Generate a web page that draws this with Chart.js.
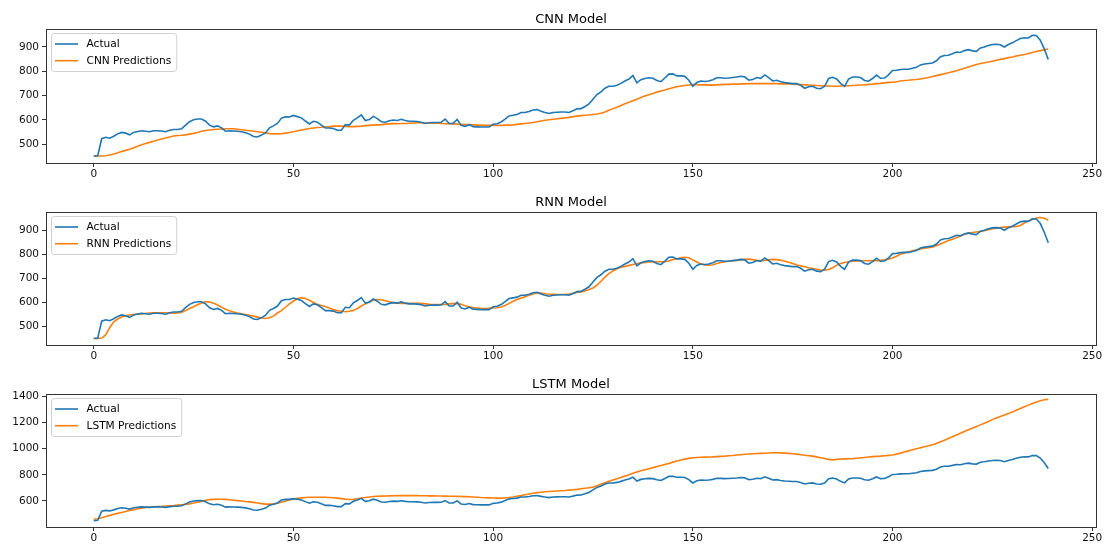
<!DOCTYPE html>
<html>
<head>
<meta charset="utf-8">
<title>CNN / RNN / LSTM predictions</title>
<script src="https://cdn.jsdelivr.net/npm/chart.js@4.4.1/dist/chart.umd.min.js"></script>
<style>
   body { margin: 0; background: #fff; }
   #figure { position: relative; width: 1107px; height: 550px; overflow: hidden; }
   .panel { position: absolute; left: 0; width: 1107px; }
</style>
</head>
<body>
<div id="figure">
   <div class="panel" style="top:0px"><canvas id="cnn" width="1107" height="183"></canvas></div>
   <div class="panel" style="top:183px"><canvas id="rnn" width="1107" height="182"></canvas></div>
   <div class="panel" style="top:365px"><canvas id="lstm" width="1107" height="182"></canvas></div>
</div>
<script>
// values
const actual = [
   450,452,522,528,524,532,542,548,545,538, 548,552,555,553,551,555,555,554,551,557,
   560,560,563,578,592,600,603,603,594,578, 571,575,567,553,555,554,553,551,547,541,
   531,529,537,546,567,575,585,607,612,612, 618,613,608,595,583,594,590,578,566,566,
   564,557,557,580,578,598,608,620,597,601, 614,605,592,590,596,599,597,602,597,594,
   594,593,590,585,588,589,589,590,603,585, 585,601,577,573,580,572,571,570,570,570,
   582,584,591,603,616,619,622,630,630,634, 640,642,635,630,626,630,631,632,632,630,
   637,645,646,655,665,685,704,715,730,738, 738,742,750,760,768,782,752,765,770,773,
   771,762,757,772,788,789,781,781,779,763, 738,754,760,758,760,765,773,773,771,772,
   774,776,779,777,763,766,774,771,785,774, 760,763,757,753,751,749,749,742,730,736,
   738,730,728,738,770,775,768,750,738,768, 776,776,774,762,759,770,784,771,772,785,
   803,804,807,808,808,812,816,826,830,832, 834,843,860,865,866,872,879,877,885,889,
   884,882,896,900,906,910,911,909,900,910, 917,926,935,938,937,948,947,928,892,848
];

const cnnPredictions = [
   451,451,451,452,455,459,464,469,474,479, 485,491,497,502,507,512,517,521,525,529,
   533,535,536,538,541,544,548,553,556,558, 560,561,562,563,563,563,561,559,557,555,
   553,551,549,546,543,542,542,543,545,548, 551,555,558,561,564,566,568,569,571,572,
   574,574,574,573,572,572,573,574,576,577, 578,579,580,582,583,584,584,585,585,586,
   587,588,588,587,587,586,586,585,584,584, 583,582,581,580,580,579,578,578,577,577,
   577,577,577,578,578,579,581,583,585,587, 589,592,595,598,600,602,604,606,608,610,
   613,615,617,619,620,622,624,627,632,639, 646,652,659,666,672,678,685,692,698,703,
   708,714,719,723,728,732,736,739,741,743, 745,745,744,744,743,743,744,745,746,746,
   747,747,748,748,749,749,749,749,749,749, 749,749,748,748,748,747,746,745,744,743,
   742,741,740,739,739,738,738,739,740,740, 741,742,743,744,746,747,749,750,752,754,
   755,757,760,762,763,765,766,768,771,774, 778,782,786,790,794,798,802,807,812,817,
   823,828,832,835,838,841,845,849,852,856, 859,863,866,869,873,877,881,885,888,892
];

const rnnPredictions = [
   450,450,452,465,495,519,531,539,545,548, 550,551,552,554,556,557,557,557,557,556,
   555,556,559,566,575,582,590,598,603,602, 597,589,580,572,565,560,556,553,550,547,
   543,539,535,533,536,543,556,566,580,594, 606,615,620,616,609,600,592,587,583,577,
   571,566,563,561,563,566,575,585,594,603, 610,612,611,607,603,600,597,596,596,596,
   596,596,596,594,592,591,591,591,592,594, 595,596,592,586,582,579,577,575,575,576,
   577,578,581,587,596,605,612,618,624,630, 635,639,639,636,634,634,633,633,633,635,
   638,641,644,648,654,660,672,688,705,720, 731,740,746,750,754,758,762,764,766,768,
   769,769,769,769,772,778,782,786,788,786, 777,768,760,756,755,757,762,766,769,771,
   773,775,777,779,780,778,775,774,775,777, 779,778,775,771,767,762,756,752,748,744,
   741,738,735,734,737,744,754,762,766,769, 771,772,772,773,773,774,774,775,777,780,
   785,792,800,806,811,815,819,822,825,827, 831,836,843,850,857,863,869,876,883,888,
   891,893,895,898,902,906,909,911,913,914, 915,916,920,930,939,945,951,953,950,942
];

const lstmPredictions = [
   462,464,472,481,490,498,505,512,520,527, 534,540,545,550,554,556,558,559,561,563,
   565,568,571,574,578,584,591,599,605,610, 612,613,613,612,609,606,603,600,596,593,
   589,585,580,576,576,578,582,590,600,608, 615,620,624,627,628,628,628,628,628,627,
   625,622,618,614,611,612,617,623,627,631, 634,636,637,638,639,640,641,641,641,641,
   641,641,640,640,639,639,638,638,637,636, 636,635,634,633,632,630,628,626,625,624,
   623,622,622,623,626,630,636,641,647,653, 659,664,667,670,672,674,676,678,680,683,
   686,689,693,697,701,706,716,728,740,751, 761,770,780,790,801,812,822,831,839,847,
   855,863,871,879,887,897,906,914,920,926, 930,932,934,935,936,937,939,941,943,946,
   948,951,954,957,959,961,963,964,965,967, 969,969,968,966,964,961,958,954,950,947,
   943,937,931,925,918,914,918,921,922,923, 924,927,930,933,936,939,941,943,946,949,
   952,958,966,975,983,991,999,1007,1015,1022, 1030,1040,1052,1064,1078,1091,1104,1118,1132,1145,
   1157,1169,1182,1195,1208,1222,1235,1246,1257,1269, 1281,1294,1307,1320,1333,1345,1357,1367,1374,1377
];

const xTicks = [0, 50, 100, 150, 200, 250];
const smallYTicks = [500, 600, 700, 800, 900];
const lstmYTicks = [600, 800, 1000, 1200, 1400];

const blue = '#1f77b4';
const orange = '#ff7f0e';

Chart.defaults.font.family = "'DejaVu Sans', sans-serif";
Chart.defaults.font.size = 10.5;
Chart.defaults.color = '#111';
Chart.defaults.animation = false;

// box round the axes, like matplotlib spines
const framePlugin = {
   id: 'frame',
   afterDatasetsDraw(chart){
      let a = chart.chartArea;
      let ctx = chart.ctx;
      ctx.save();
      ctx.strokeStyle = '#333';
      ctx.lineWidth = 1;
      ctx.strokeRect(Math.round(a.left) + 0.5, Math.round(a.top) + 0.5, Math.round(a.right - a.left), Math.round(a.bottom - a.top));
      ctx.restore();
   }
};

// title centred over the plot area, not the whole canvas
const axesTitlePlugin = {
   id: 'axesTitle',
   afterDraw(chart, args, opts){
      let a = chart.chartArea;
      let ctx = chart.ctx;
      ctx.save();
      ctx.font = "13px 'DejaVu Sans', sans-serif";
      ctx.fillStyle = '#000';
      ctx.textAlign = 'center';
      ctx.textBaseline = 'alphabetic';
      ctx.fillText(opts.text, (a.left + a.right) / 2, a.top - 6.5);
      ctx.restore();
   }
};

// legend inside the upper-left corner of the axes
const innerLegendPlugin = {
   id: 'innerLegend',
   afterDraw(chart){
      let a = chart.chartArea;
      let ctx = chart.ctx;
      let sets = chart.data.datasets;
      ctx.save();
      ctx.font = "10.6px 'DejaVu Sans', sans-serif";
      let textW = Math.max(...sets.map(s => ctx.measureText(s.label).width));
      let x = a.left + 5.5;
      let y = a.top + 4.5;
      let w = 3.5 + 23 + 8.5 + textW + 5.5;
      let h = 38;

      ctx.beginPath();
      ctx.roundRect(x, y, w, h, 3);
      ctx.fillStyle = 'rgba(255,255,255,0.8)';
      ctx.fill();
      ctx.strokeStyle = '#d0d0d0';
      ctx.lineWidth = 1;
      ctx.stroke();

      sets.forEach((s, i) => {
         let rowY = y + 10.5 + i * 16.7;
         ctx.beginPath();
         ctx.moveTo(x + 3.5, rowY);
         ctx.lineTo(x + 26.5, rowY);
         ctx.strokeStyle = s.borderColor;
         ctx.lineWidth = 1.6;
         ctx.stroke();
         ctx.fillStyle = '#000';
         ctx.textAlign = 'left';
         ctx.textBaseline = 'middle';
         ctx.fillText(s.label, x + 35, rowY + 0.5);
      });
      ctx.restore();
   }
};

function toPoints(values){
   return values.map((v, i) => ({x: i, y: v}));
}

function constructPanel(canvasId, title, predLabel, predValues, yMin, yMax, yTicks){
   let data = {
      datasets: [
         {label: 'Actual', data: toPoints(actual), borderColor: blue, backgroundColor: blue},
         {label: predLabel, data: toPoints(predValues), borderColor: orange, backgroundColor: orange}
      ]
   };

   let options = {
      responsive: false,
      layout: {padding: {top: 29, right: 11, left: 0, bottom: 0}},
      elements: {
         point: {radius: 0},
         line: {borderWidth: 1.6, tension: 0}
      },
      plugins: {
         legend: {display: false},
         tooltip: {enabled: false},
         axesTitle: {text: title}
      },
      scales: {
         x: {
            type: 'linear',
            min: -11.95,
            max: 250.95,
            afterBuildTicks: (axis) => { axis.ticks = xTicks.map(v => ({value: v})); },
            afterFit: (axis) => { axis.height = 20; },
            grid: {drawOnChartArea: false, drawTicks: true, tickLength: 4, color: '#333'},
            border: {display: true, color: '#333'},
            ticks: {padding: 1, maxRotation: 0, autoSkip: false, callback: v => String(v)}
         },
         y: {
            min: yMin,
            max: yMax,
            afterBuildTicks: (axis) => { axis.ticks = yTicks.map(v => ({value: v})); },
            afterFit: (axis) => { axis.width = 46; },
            grid: {drawOnChartArea: false, drawTicks: true, tickLength: 4, color: '#333'},
            border: {display: true, color: '#333'},
            ticks: {padding: 3, autoSkip: false, callback: v => String(v)}
         }
      }
   };

   new Chart(document.getElementById(canvasId), {
      type: 'line',
      data: data,
      options: options,
      plugins: [framePlugin, axesTitlePlugin, innerLegendPlugin]
   });
}

constructPanel('cnn', 'CNN Model', 'CNN Predictions', cnnPredictions, 422, 974, smallYTicks);
constructPanel('rnn', 'RNN Model', 'RNN Predictions', rnnPredictions, 423, 976, smallYTicks);
constructPanel('lstm', 'LSTM Model', 'LSTM Predictions', lstmPredictions, 401, 1418, lstmYTicks);
</script>
</body>
</html>
